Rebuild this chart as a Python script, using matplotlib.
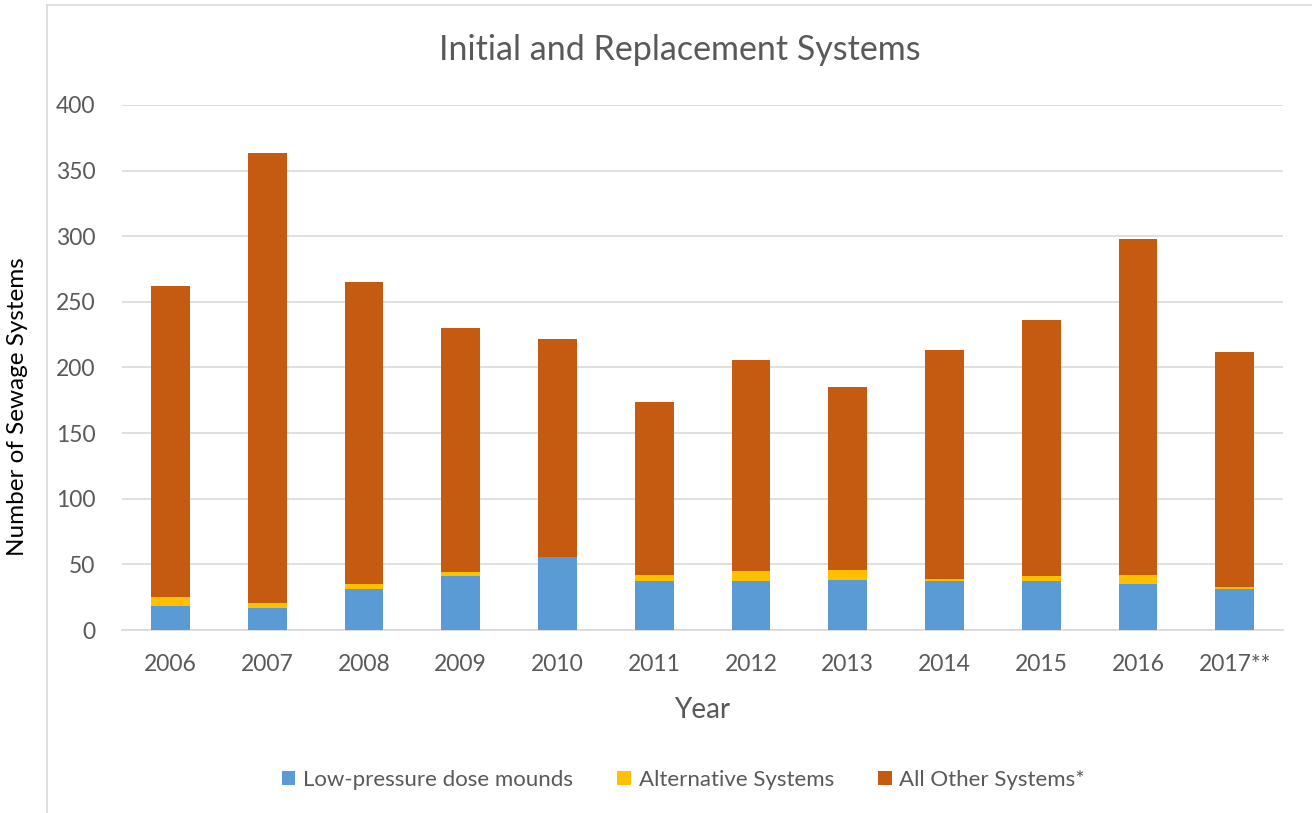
#!/usr/bin/env python3
"""
Stacked bars of initial and replacement sewage systems per year.
"""
import matplotlib.pyplot as plt
from matplotlib.lines import Line2D
import numpy as np

years = ["2006", "2007", "2008", "2009", "2010", "2011",
         "2012", "2013", "2014", "2015", "2016", "2017**"]
low_pressure = [18, 17, 31, 41, 56, 37, 37, 38, 37, 37, 35, 31]
alternative = [7, 4, 4, 3, 0, 5, 8, 8, 2, 4, 7, 2]
all_other = [237, 342, 230, 186, 166, 132, 161, 139, 174, 195, 256, 179]

series_names = ["Low-pressure dose mounds", "Alternative Systems", "All Other Systems*"]
colors = ["#5B9BD5", "#FFC000", "#C55A11"]
TEXT = "#595959"
GRID = "#D9D9D9"


def main():
    plt.rcParams["font.family"] = ["Lato", "DejaVu Sans"]
    fig = plt.figure(figsize=(13.12, 8.13), dpi=100)
    ax = fig.add_axes([0.093, 0.225, 0.885, 0.646])

    x = np.arange(len(years))
    bottom = np.zeros(len(years))
    for name, vals, col in zip(series_names, [low_pressure, alternative, all_other], colors):
        ax.bar(x, vals, width=0.4, bottom=bottom, color=col, label=name, zorder=3)
        bottom += np.array(vals)

    ax.set_xlim(-0.5, len(years) - 0.5)
    ax.set_ylim(0, 400)
    ax.set_yticks(range(0, 401, 50))
    ax.set_xticks(x, years)
    ax.yaxis.grid(True, color=GRID, linewidth=1.2, zorder=0)
    for side in ["top", "right", "left"]:
        ax.spines[side].set_visible(False)
    ax.spines["bottom"].set_color(GRID)
    ax.spines["bottom"].set_linewidth(1.2)
    ax.tick_params(length=0, colors=TEXT, labelsize=16.5)
    ax.tick_params(axis="x", pad=17)
    ax.tick_params(axis="y", pad=19)

    ax.set_xlabel("Year", fontsize=20, color=TEXT, labelpad=16)
    ax.set_ylabel("Number of Sewage Systems", fontsize=17.5, color="black")
    ax.yaxis.set_label_coords(-0.081, 0.425)
    fig.text(0.518, 0.938, "Initial and Replacement Systems", fontsize=24.5,
             color=TEXT, ha="center", va="center")

    fig.legend(loc="center", bbox_to_anchor=(0.521, 0.041), ncol=3, frameon=False,
               fontsize=16, labelcolor=TEXT, handlelength=0.6, handleheight=0.6,
               handletextpad=0.35, columnspacing=2.0)

    # chart area border
    fig.add_artist(Line2D([47 / 1312, 47 / 1312], [0, 1 - 5 / 813], color=GRID, linewidth=1.2))
    fig.add_artist(Line2D([47 / 1312, 1], [1 - 5 / 813, 1 - 5 / 813], color=GRID, linewidth=1.2))

    fig.savefig("out.png", dpi=100)


if __name__ == "__main__":
    main()
